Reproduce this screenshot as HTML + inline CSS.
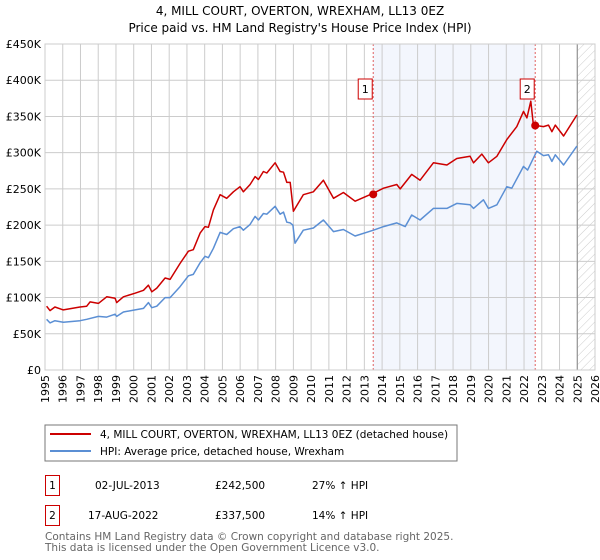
<!DOCTYPE html>
<html><head><meta charset="utf-8"><style>
body{margin:0;background:#fff;}
svg{display:block;font-family:"DejaVu Sans","Liberation Sans",sans-serif;}
</style></head><body>
<svg id="c" width="600" height="560" xmlns="http://www.w3.org/2000/svg">
<defs><pattern id="hatch" width="6" height="6" patternUnits="userSpaceOnUse" patternTransform="rotate(45)"><line x1="0" y1="0" x2="0" y2="6" stroke="#ccc" stroke-width="1"/></pattern></defs>
<text x="300" y="15" text-anchor="middle" font-size="12">4, MILL COURT, OVERTON, WREXHAM, LL13 0EZ</text>
<text x="300" y="32" text-anchor="middle" font-size="12">Price paid vs. HM Land Registry's House Price Index (HPI)</text>
<g id="plot"></g>
<g>
<rect x="45" y="425" width="412" height="36" fill="#fff" stroke="#777"/>
<line x1="50" y1="434" x2="91" y2="434" stroke="#cc0000" stroke-width="2"/>
<text x="100" y="438" font-size="10.5">4, MILL COURT, OVERTON, WREXHAM, LL13 0EZ (detached house)</text>
<line x1="50" y1="451" x2="91" y2="451" stroke="#5b8fd4" stroke-width="2"/>
<text x="100" y="455" font-size="10.5">HPI: Average price, detached house, Wrexham</text>
</g>
<g font-size="10.5">
<rect x="45.5" y="475.5" width="14" height="20" fill="none" stroke="#cc0000"/>
<text x="52.5" y="489" text-anchor="middle">1</text>
<text x="95" y="489">02-JUL-2013</text>
<text x="215" y="489">£242,500</text>
<text x="312" y="489">27% ↑ HPI</text>
<rect x="45.5" y="505.5" width="14" height="20" fill="none" stroke="#cc0000"/>
<text x="52.5" y="519" text-anchor="middle">2</text>
<text x="88" y="519">17-AUG-2022</text>
<text x="215" y="519">£337,500</text>
<text x="312" y="519">14% ↑ HPI</text>
</g>
<text x="45" y="540" font-size="10.5" fill="#666">Contains HM Land Registry data © Crown copyright and database right 2025.</text>
<text x="45" y="551" font-size="10.5" fill="#666">This data is licensed under the Open Government Licence v3.0.</text>
</svg>
<script>
const yTicks=[0,50,100,150,200,250,300,350,400,450];
const yTickLabels=["£0","£50K","£100K","£150K","£200K","£250K","£300K","£350K","£400K","£450K"];
const xYears=[1995,1996,1997,1998,1999,2000,2001,2002,2003,2004,2005,2006,2007,2008,2009,2010,2011,2012,2013,2014,2015,2016,2017,2018,2019,2020,2021,2022,2023,2024,2025,2026];
const hpiYears=[1995.09,1995.28,1995.56,1996.03,1996.97,1997.35,1998.01,1998.48,1998.95,1999.04,1999.42,2000.08,2000.55,2000.83,2001.02,2001.3,2001.77,2002.05,2002.61,2003.08,2003.36,2003.74,2004.02,2004.21,2004.49,2004.87,2005.24,2005.62,2005.99,2006.18,2006.56,2006.84,2007.03,2007.31,2007.5,2007.97,2008.25,2008.44,2008.63,2008.82,2008.97,2009.09,2009.56,2010.13,2010.69,2011.26,2011.82,2012.48,2013.51,2014.08,2014.83,2015.3,2015.67,2016.14,2016.89,2017.65,2018.21,2018.96,2019.15,2019.71,2019.99,2020.47,2021.03,2021.31,2021.97,2022.2,2022.72,2023.1,2023.38,2023.57,2023.76,2024.23,2024.98];
const hpiValues=[70,65,68,66,68,70,74,73,77,74,80,83,85,93,86,88,100,100,115,130,132,148,157,155,168,190,187,195,198,193,201,212,207,216,215,226,215,218,204,203,200,175,193,196,207,191,194,185,193,198,203,198,214,207,223,223,230,228,223,235,223,228,253,251,281,276,302,296,297,288,297,283,309];
const priceYears=[1995.09,1995.28,1995.56,1996.03,1996.97,1997.35,1997.54,1998.01,1998.48,1998.95,1999.04,1999.42,2000.08,2000.55,2000.83,2001.02,2001.3,2001.77,2002.05,2002.61,2003.08,2003.36,2003.74,2004.02,2004.21,2004.49,2004.87,2005.24,2005.62,2005.99,2006.18,2006.56,2006.84,2007.03,2007.31,2007.5,2007.97,2008.25,2008.44,2008.63,2008.82,2009.0,2009.56,2010.13,2010.69,2011.26,2011.82,2012.48,2013.51,2014.08,2014.83,2015.02,2015.67,2016.14,2016.89,2017.65,2018.21,2018.96,2019.15,2019.62,2019.99,2020.47,2021.03,2021.59,2021.97,2022.16,2022.38,2022.53,2023.1,2023.38,2023.57,2023.76,2024.23,2024.98];
const priceValues=[88,82,87,83,87,88,94,92,101,99,93,101,106,110,117,108,113,127,125,147,164,166,189,198,197,221,242,237,246,253,246,256,267,263,274,272,286,274,273,259,259,219,242,246,262,237,245,233,244,251,256,250,270,262,286,283,292,295,286,298,286,295,318,336,357,348,371,338,336,338,329,338,323,352];
const saleYears=[2013.5,2022.63];
const saleValues=[242.5,337.5];
const saleLabels=["1","2"];
const X0=45,X1=595,Y0=370,Y1=44;
const xs=y=>X0+(y-1995)*(X1-X0)/31;
const ys=v=>Y0-v*(Y0-Y1)/450;
const NS="http://www.w3.org/2000/svg";
const g=document.getElementById('plot');
function mk(t,a){const e=document.createElementNS(NS,t);for(const k in a)e.setAttribute(k,a[k]);g.appendChild(e);return e;}
let e=mk('rect',{x:xs(saleYears[0]),y:Y1,width:xs(saleYears[1])-xs(saleYears[0]),height:Y0-Y1,fill:'#eef2fc',opacity:'0.7'});


e=mk('rect',{x:xs(2025),y:Y1,width:X1-xs(2025),height:Y0-Y1,fill:'url(#hatch)'});


yTicks.forEach((v,i)=>{
 e=mk('line',{x1:X0,x2:X1,y1:ys(v),y2:ys(v),stroke:'#ccc','stroke-width':1});
 
 
 e=mk('text',{x:X0-4,y:ys(v)+4,'text-anchor':'end','font-size':11});
 e.textContent=yTickLabels[i];
 
 
});
xYears.forEach(y=>{
 e=mk('line',{x1:xs(y),x2:xs(y),y1:Y1,y2:Y0,stroke:'#ccc','stroke-width':1});
 
 
 e=mk('text',{x:0,y:0,'text-anchor':'end','font-size':11,transform:`translate(${xs(y)+4},${Y0+5}) rotate(-90)`});
 e.textContent=y;
 
 
});
e=mk('line',{x1:xs(2025),x2:xs(2025),y1:Y1,y2:Y0,stroke:'#888','stroke-width':1});


saleYears.forEach((y,i)=>{
 e=mk('line',{x1:xs(y),x2:xs(y),y1:Y1,y2:Y0,stroke:'#e06060','stroke-width':1,'stroke-dasharray':'2,2'});
 
 
});
function path(xa,va,col,name){
 const d=xa.map((y,i)=>(i?'L':'M')+xs(y).toFixed(1)+','+ys(va[i]).toFixed(1)).join('');
 e=mk('path',{d:d,fill:'none',stroke:col,'stroke-width':1.5,'stroke-linejoin':'round'});
 
 
}
path(hpiYears,hpiValues,'#5b8fd4','hpi-line');
path(priceYears,priceValues,'#cc0000','price-line');
saleYears.forEach((y,i)=>{
 e=mk('circle',{cx:xs(y),cy:ys(saleValues[i]),r:4,fill:'#cc0000'});
 
 
 const bx=xs(y)-8-7*(i==0?1:0)*0;
 e=mk('rect',{x:xs(y)-15,y:79,width:14,height:20,fill:'#fff',stroke:'#cc0000'});
 
 
 e=mk('text',{x:xs(y)-8,y:93,'text-anchor':'middle','font-size':11});
 e.textContent=saleLabels[i];
 
 
});
e=mk('rect',{x:X0,y:Y1,width:X1-X0,height:Y0-Y1,fill:'none',stroke:'#ccc'});


</script>
</body></html>
